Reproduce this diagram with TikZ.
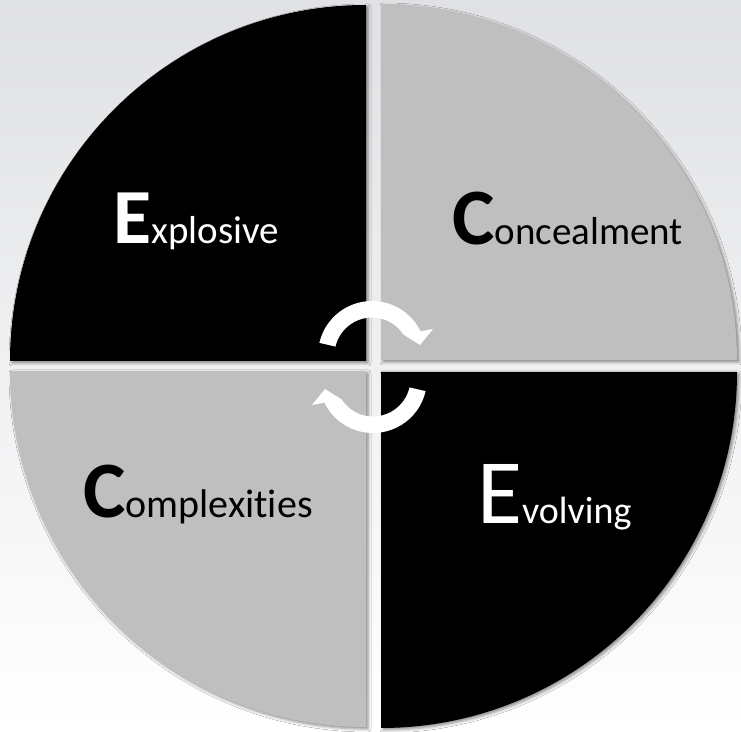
\documentclass[tikz,border=0pt]{standalone}
\usepackage{fontspec}
\setmainfont{Carlito}[Ligatures=NoCommon]
\usetikzlibrary{shadows.blur}
\definecolor{sectorgray}{RGB}{191,191,191}
\definecolor{bgtop}{RGB}{224,225,228}
\newcommand{\arrowshape}{%
  (167:54) arc[start angle=167,end angle=26,radius=54]
  -- (61,26) -- (48,10) -- (33:37.5)
  arc[start angle=33,end angle=167,radius=37.5] -- cycle}
\begin{document}
\begin{tikzpicture}[x=1pt,y=1pt,
  sectorshadow/.style={blur shadow={shadow xshift=2pt,shadow yshift=-2pt,shadow blur radius=3pt,shadow opacity=45}},
  cyclearrow/.style={fill=white},
  lab/.style={anchor=base west, inner sep=0pt}]
\shade[top color=bgtop, bottom color=white] (0,0) rectangle (741,731);
\useasboundingbox (0,0) rectangle (741,731);
% shadows
\path[sectorshadow] (366,370) -- ++(0,356) arc[start angle=90,end angle=180,radius=356] -- cycle;
\path[sectorshadow] (381,371) -- ++(356,0) arc[start angle=0,end angle=90,radius=356] -- cycle;
\path[sectorshadow] (366,360) -- ++(-356,0) arc[start angle=180,end angle=270,radius=356] -- cycle;
\path[sectorshadow] (381,359) -- ++(0,-356) arc[start angle=270,end angle=360,radius=356] -- cycle;
% sectors
\fill[black] (366,370) -- ++(0,356) arc[start angle=90,end angle=180,radius=356] -- cycle;
\fill[sectorgray] (381,371) -- ++(356,0) arc[start angle=0,end angle=90,radius=356] -- cycle;
\fill[sectorgray] (366,360) -- ++(-356,0) arc[start angle=180,end angle=270,radius=356] -- cycle;
\fill[black] (381,359) -- ++(0,-356) arc[start angle=270,end angle=360,radius=356] -- cycle;
% cycle arrows
\begin{scope}[shift={(372,376)}]
  \fill[cyclearrow] \arrowshape;
\end{scope}
\begin{scope}[shift={(373,352)},rotate=180]
  \fill[cyclearrow] \arrowshape;
\end{scope}
% labels
\node[lab,text=white] (explosive) at (113,487)
  {{\fontsize{78}{78}\selectfont\bfseries E}{\fontsize{39}{39}\selectfont xplosive}};
\node[lab,text=black] (concealment) at (452,486)
  {{\fontsize{80}{80}\selectfont\bfseries C}{\fontsize{39}{39}\selectfont oncealment}};
\node[lab,text=black] (complexities) at (83,213)
  {{\fontsize{80}{80}\selectfont\bfseries C}{\fontsize{40}{40}\selectfont omplexities}};
\node[lab,text=white] (evolving) at (477,207)
  {{\fontsize{92}{92}\selectfont E}{\fontsize{38}{38}\selectfont volving}};
\end{tikzpicture}
\end{document}
